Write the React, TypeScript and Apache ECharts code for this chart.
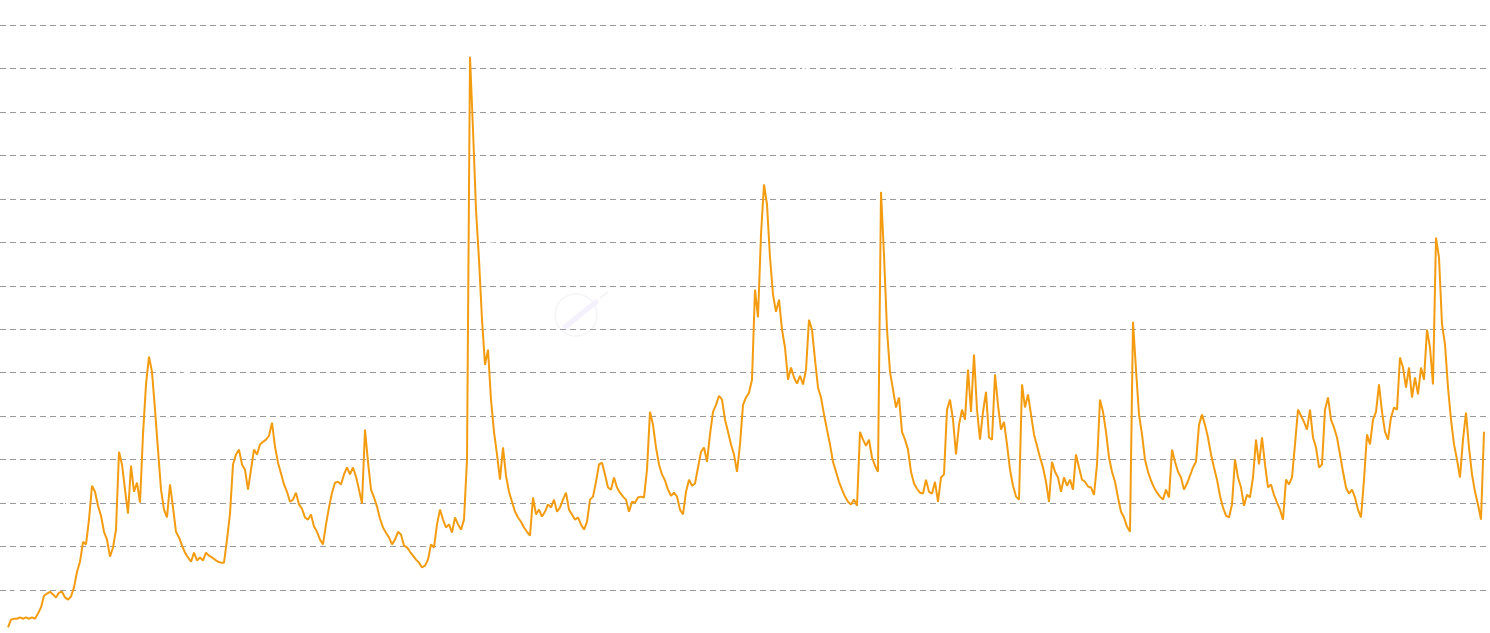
import React, { useEffect, useRef } from "react";
import * as echarts from "echarts";

// Weekly volatility readings (orange line)
const volatility: number[] = [
  1.4, 3.2, 3.4, 3.4, 3.7, 3.4, 3.7, 3.4, 3.7, 3.4,
  4.6, 6.0, 8.7, 9.2, 9.6, 9.0, 8.3, 9.4, 9.6, 8.3,
  7.8, 8.5, 10.6, 14.2, 16.5, 21.1, 20.5, 26.2, 34.0, 32.6,
  29.4, 27.1, 23.4, 21.6, 17.7, 19.8, 23.9, 41.8, 38.9, 33.1,
  27.6, 38.6, 32.6, 34.7, 30.1, 45.8, 57.3, 63.7, 60.2, 51.5,
  42.3, 33.1, 28.5, 26.7, 34.3, 29.0, 23.4, 22.1, 20.2, 18.6,
  17.5, 16.5, 18.6, 16.8, 17.5, 16.8, 18.6, 17.9, 17.5, 17.0,
  16.5, 16.3, 16.3, 21.6, 27.6, 38.9, 41.2, 42.3, 38.9, 37.7,
  33.1, 37.7, 42.3, 41.2, 43.5, 44.1, 44.6, 45.5, 48.5, 43.0,
  39.3, 36.8, 34.3, 32.6, 30.3, 30.8, 32.4, 29.7, 28.7, 26.7,
  26.2, 27.4, 24.6, 23.4, 21.6, 20.5, 25.1, 29.0, 32.4, 34.7,
  34.9, 34.3, 36.6, 38.2, 36.6, 38.2, 36.1, 33.1, 29.9, 46.9,
  39.5, 33.1, 31.3, 29.2, 26.4, 24.4, 23.2, 22.1, 20.5, 21.6,
  23.4, 22.8, 20.2, 19.8, 18.8, 17.9, 17.0, 16.3, 15.2, 15.6,
  17.0, 20.5, 19.8, 25.1, 28.5, 26.2, 24.4, 25.1, 23.2, 26.7,
  25.1, 23.9, 26.2, 40.0, 132.7, 115.9, 97.5, 86.0, 72.2, 61.8,
  65.3, 53.8, 46.4, 41.2, 35.4, 42.8, 36.3, 32.6, 30.3, 28.0,
  26.7, 25.7, 24.4, 23.4, 22.5, 31.3, 27.4, 28.5, 26.9, 28.0,
  29.7, 29.0, 30.8, 28.0, 29.0, 30.8, 32.4, 28.5, 27.4, 26.2,
  26.7, 25.1, 23.9, 25.7, 30.8, 31.5, 34.9, 38.9, 39.3, 36.6,
  33.6, 33.1, 35.9, 33.6, 32.4, 31.5, 30.8, 28.0, 30.3, 30.1,
  31.3, 31.5, 31.3, 37.7, 51.0, 48.0, 42.8, 38.9, 36.6, 35.2,
  33.1, 31.7, 32.4, 31.5, 28.5, 27.4, 32.6, 35.4, 34.0, 34.5,
  38.2, 41.8, 42.8, 39.5, 45.8, 51.0, 52.6, 54.7, 53.8, 49.2,
  46.4, 43.5, 41.2, 37.2, 43.5, 52.6, 54.3, 55.4, 58.4, 79.1,
  72.7, 91.8, 103.3, 98.7, 86.5, 78.0, 74.0, 76.8, 69.9, 65.8,
  58.4, 61.2, 58.9, 57.5, 59.3, 57.3, 60.7, 72.2, 69.9, 63.0,
  56.6, 54.3, 50.4, 46.9, 43.5, 39.5, 37.2, 34.9, 33.1, 31.5,
  30.3, 29.7, 30.8, 29.4, 46.4, 44.6, 43.2, 44.6, 40.5, 38.6,
  37.2, 101.6, 87.1, 69.9, 60.2, 56.1, 52.0, 54.3, 46.4, 44.6,
  42.3, 37.2, 34.5, 33.3, 32.4, 32.2, 35.4, 32.6, 32.2, 34.9,
  30.3, 35.9, 36.6, 51.5, 53.8, 49.2, 41.2, 48.0, 51.5, 49.2,
  60.7, 51.0, 64.2, 51.5, 44.6, 51.0, 55.6, 45.1, 44.6, 59.6,
  52.6, 46.9, 48.7, 43.5, 37.7, 34.0, 31.5, 30.8, 57.3, 52.0,
  55.0, 50.4, 45.8, 43.2, 40.5, 38.2, 34.9, 30.3, 39.5, 37.2,
  35.9, 32.6, 35.9, 34.0, 35.4, 33.1, 41.2, 38.2, 35.4, 34.9,
  33.8, 33.6, 31.9, 38.9, 53.8, 51.0, 46.4, 40.5, 37.2, 34.9,
  31.3, 28.0, 26.7, 24.6, 23.4, 71.7, 60.7, 50.4, 45.8, 40.0,
  37.2, 35.2, 33.6, 32.4, 31.5, 30.8, 33.1, 31.3, 42.3, 39.5,
  37.2, 35.9, 33.1, 34.5, 36.3, 38.2, 39.5, 48.0, 50.4, 48.0,
  45.1, 41.2, 38.2, 35.4, 31.7, 29.0, 27.1, 26.7, 29.7, 40.0,
  35.9, 33.6, 29.4, 31.9, 31.3, 35.9, 44.6, 38.9, 45.1, 38.9,
  33.6, 34.3, 31.9, 30.1, 28.5, 26.2, 35.4, 34.3, 35.9, 43.5,
  51.5, 50.1, 48.7, 46.9, 51.5, 45.1, 42.8, 38.2, 38.9, 51.5,
  54.3, 49.2, 47.4, 45.1, 41.2, 37.2, 33.6, 32.2, 33.1, 31.3,
  28.5, 26.7, 35.4, 45.8, 43.5, 49.2, 51.0, 57.3, 51.0, 46.4,
  44.6, 49.7, 52.0, 51.5, 63.5, 61.2, 56.6, 61.2, 54.3, 58.9,
  55.0, 61.2, 58.4, 69.9, 65.8, 57.3, 91.1, 86.5, 71.1, 66.5,
  56.6, 49.2, 43.5, 40.0, 35.9, 44.6, 50.8, 42.8, 36.6, 32.6,
  29.7, 26.2, 46.4,
];

// Background series drawn in white (sampled every 10 weeks)
const background: number[] = [
  7.7, 16.5, 31.9, 49.1, 51.9, 55.1, 60.6, 67.1, 85.9, 99.2,
  100.8, 114.0, 118.2, 107.3, 100.2, 93.3, 90.1, 90.5, 99.7, 96.5,
  91.0, 92.4, 91.5, 99.3, 106.7, 117.0, 128.0, 131.8, 137.7, 142.3,
  136.6, 131.5, 128.7, 126.9, 125.5, 128.5, 128.8, 131.2, 128.6, 135.4,
  140.7, 143.0, 142.3, 140.0, 134.3, 129.0, 139.3, 141.2, 135.4, 131.5,
];

const START = Date.UTC(2014, 0, 6);
const WEEK = 7 * 24 * 3600 * 1000;
const volDates = volatility.map((_, i) => START + i * WEEK);
const bgDates = background.map((_, i) => START + i * 10 * WEEK);

export default function App() {
  const ref = useRef<HTMLDivElement>(null);
  useEffect(() => {
    if (!ref.current) return;
    const chart = echarts.init(ref.current, null, { renderer: "svg" });
    chart.setOption({
      animation: false,
      backgroundColor: "#ffffff",
      grid: { left: 0, right: 0, top: 25, bottom: 46.5, containLabel: false },
      xAxis: {
        type: "time",
        min: volDates[0] - (8 / 3) * WEEK,
        max: volDates[volDates.length - 1] + 2 * WEEK,
        axisLabel: { show: false },
        axisLine: { show: false },
        axisTick: { show: false },
        splitLine: { show: false },
      },
      yAxis: {
        type: "value",
        min: 0,
        max: 140,
        interval: 10,
        axisLabel: { show: false },
        axisLine: { show: false },
        axisTick: { show: false },
        splitLine: { show: true, lineStyle: { color: "#9a9a9a", type: [6, 4], width: 1 } },
      },
      graphic: [
        {
          type: "circle",
          shape: { cx: 576, cy: 315, r: 21 },
          style: { fill: "none", stroke: "#f3f3f6", lineWidth: 1.2 },
          silent: true,
        },
        {
          type: "line",
          shape: { x1: 565, y1: 327, x2: 596, y2: 302 },
          style: { stroke: "#f4f1fc", lineWidth: 5, lineCap: "round" },
          silent: true,
        },
        {
          type: "line",
          shape: { x1: 600, y1: 298, x2: 608, y2: 292 },
          style: { stroke: "#f3f3f3", lineWidth: 2 },
          silent: true,
        },
      ],
      series: [
        {
          name: "background",
          type: "line",
          data: bgDates.map((d, i) => [d, background[i]]),
          showSymbol: false,
          symbol: "none",
          lineStyle: { color: "#ffffff", width: 1.5 },
          z: 1,
          silent: true,
        },
        {
          name: "volatility",
          type: "line",
          data: volDates.map((d, i) => [d, volatility[i]]),
          showSymbol: false,
          symbol: "none",
          lineStyle: { color: "#f39c12", width: 2 },
          z: 2,
        },
      ],
    });
    return () => chart.dispose();
  }, []);
  return (
    <div
      ref={ref}
      style={{ position: "fixed", left: 0, top: 0, width: 1490, height: 680, background: "#fff" }}
    />
  );
}
